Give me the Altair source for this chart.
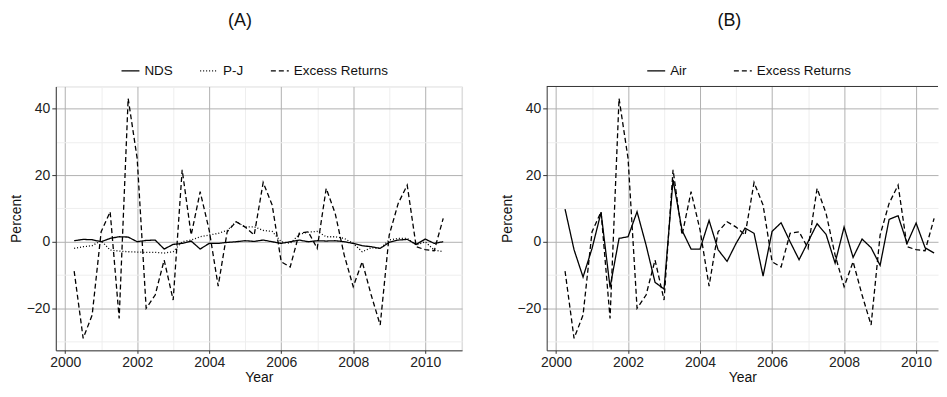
import altair as alt
import pandas as pd

# ---------------- data ----------------
quarters = [2000.25, 2000.5, 2000.75, 2001.0, 2001.25, 2001.5, 2001.75, 2002.0,
            2002.25, 2002.5, 2002.75, 2003.0, 2003.25, 2003.5, 2003.75, 2004.0,
            2004.25, 2004.5, 2004.75, 2005.0, 2005.25, 2005.5, 2005.75, 2006.0,
            2006.25, 2006.5, 2006.75, 2007.0, 2007.25, 2007.5, 2007.75, 2008.0,
            2008.25, 2008.5, 2008.75, 2009.0, 2009.25, 2009.5, 2009.75, 2010.0,
            2010.25, 2010.5]

excess_returns = [-8.8, -29, -22, 3, 9, -23, 43, 25, -20, -16, -5.5, -17.5,
                  21.6, 2, 15, 3.5, -13.3, 3, 6, 4.4, 2, 17.8, 11, -6,
                  -7.6, 2.5, 3, -2, 16, 8.5, -4, -13.5, -6, -16, -25, 2,
                  11.5, 17, -1.5, -2.4, -2.7, 7]

nds = [0.3, 0.7, 0.6, 0, 1, 1.5, 1.4, 0, 0.4, 0.5, -2.2, -0.8,
       -0.5, 0.2, -2.2, -0.5, -0.5, -0.2, 0, 0.3, 0.1, 0.5, 0, -0.5,
       0, 0.5, 0, 0.3, 0.2, 0.3, 0, -0.5, -1.2, -1.5, -2, -0.2,
       0.5, 0.7, -0.8, 0.8, -0.5, 0]

pj = [-2, -1.5, -1.2, 0.3, -2.5, -2.8, -3, -3.1, -3.2, -3.2, -3.4, -3,
      0, 0.5, 1.5, 2, 2.5, 3.4, 6, 4.4, 4.5, 3.4, 3.1, 0,
      -0.5, 2.2, 2.9, 3.1, 1.5, 1.5, 1, -0.5, -3, -1.8, -2, 0.5,
      1, 1, -1, 0, -2.5, -3]

air = [9.8, -2.4, -10.6, -2, 8.8, -13.7, 1, 1.5, 9, -1, -12.2, -14.2,
       18.6, 3.4, -2.2, -2.2, 6.4, -2.4, -5.9, -0.5, 4.1, 2.5, -10.3, 3.1,
       5.7, 0, -5.4, 0, 5.4, 2.2, -6.4, 4.4, -4.7, 0.8, -1.8, -7.1,
       6.7, 7.8, -0.5, 5.6, -1.8, -3.4]

series_a = ["NDS", "P-J", "Excess Returns"]
series_b = ["Air", "Excess Returns"]
x_grid = list(range(2000, 2012))        # labels on even years only
y_grid = list(range(-30, 50, 10))       # labels on multiples of 20

# ---------------- styling ----------------
FONT = "Liberation Sans, Arial, sans-serif"
DASH = {"NDS": [1, 0], "Air": [1, 0], "P-J": [1, 2], "Excess Returns": [5, 3]}
X_MIN = 1999.74
PX_PER_YEAR = 36.16
W_A = 408
W_B = 393
H = 265


def long_frame(names, columns):
    rows = []
    for name, vals in zip(names, columns):
        for q, v in zip(quarters, vals):
            rows.append({"Year": q, "Percent": v, "Series": name})
    return pd.DataFrame(rows)


def panel(df, names, title, width, legend_x, col_pad, title_dx, border):
    x_axis = alt.Axis(
        values=x_grid, format="d", title="Year",
        labelExpr="datum.value % 2 == 0 ? datum.label : ''",
        gridColor={"condition": {"test": "datum.value % 2 == 0", "value": "#b0b0b0"}, "value": "#eeeeee"},
        tickColor={"condition": {"test": "datum.value % 2 == 0", "value": "#333333"}, "value": "transparent"},
        gridWidth=1, tickSize=3, labelPadding=2, domainColor="#333333",
        labelFont=FONT, labelFontSize=14, labelColor="#222222",
        titleFont=FONT, titleFontSize=14, titleFontWeight="normal", titleColor="#111111",
        titlePadding=1,
    )
    y_axis = alt.Axis(
        values=y_grid, title="Percent",
        labelExpr="datum.value % 20 == 0 ? datum.label : ''",
        gridColor={"condition": {"test": "datum.value % 20 == 0", "value": "#b0b0b0"}, "value": "#eeeeee"},
        tickColor={"condition": {"test": "datum.value % 20 == 0", "value": "#333333"}, "value": "transparent"},
        gridWidth=1, tickSize=4, labelPadding=2, domainColor="#333333",
        labelFont=FONT, labelFontSize=14, labelColor="#222222",
        titleFont=FONT, titleFontSize=14, titleFontWeight="normal", titleColor="#111111",
        titlePadding=3,
    )
    x_max = X_MIN + width / PX_PER_YEAR
    lines = alt.Chart(df).mark_line(color="black", strokeWidth=1.3).encode(
        x=alt.X("Year:Q", scale=alt.Scale(domain=[X_MIN, x_max], nice=False, zero=False), axis=x_axis),
        y=alt.Y("Percent:Q", scale=alt.Scale(domain=[-32.6, 46.6], nice=False, zero=False), axis=y_axis),
        strokeDash=alt.StrokeDash(
            "Series:N",
            scale=alt.Scale(domain=names, range=[DASH[n] for n in names]),
            sort=names,
            legend=alt.Legend(
                orient="none", legendX=legend_x, legendY=-26, direction="horizontal",
                title=None, symbolType="stroke", symbolSize=324, symbolStrokeWidth=1.3,
                symbolStrokeColor="black", labelFont=FONT, labelFontSize=13.5,
                labelColor="#111111", columnPadding=col_pad, labelOffset=4,
            ),
        ),
        detail="Series:N",
    )
    layers = [lines]
    if not border:
        top = alt.Chart(pd.DataFrame({"k": [0]})).mark_rule(color="#333333", strokeWidth=1).encode(
            x=alt.value(0), x2=alt.value(width), y=alt.value(0)
        )
        layers.append(top)
    ch = alt.layer(*layers).properties(
        width=width, height=H,
        title=alt.TitleParams(title, font=FONT, fontSize=18, fontWeight="normal",
                              color="#111111", anchor="middle", frame="group",
                              offset=31, dx=title_dx),
    )
    if not border:
        ch = ch.properties(view=alt.ViewBackground(stroke="transparent"))
    return ch


df_a = long_frame(series_a, [nds, pj, excess_returns])
df_b = long_frame(series_b, [air, excess_returns])

pa = panel(df_a, series_a, "(A)", W_A, 65, 24, -19, True)
pb = panel(df_b, series_b, "(B)", W_B, 100, 44, -13, False)

chart = alt.hconcat(pa, pb, spacing=36).resolve_scale(
    strokeDash="independent", x="independent", y="independent"
).resolve_legend(strokeDash="independent").properties(
    padding={"left": 0, "top": 2, "right": 0, "bottom": 0}
).configure_view(stroke="#333333", strokeWidth=1).configure(background="white")

chart.save("out.html", embed_options={"renderer": "svg", "actions": False})
